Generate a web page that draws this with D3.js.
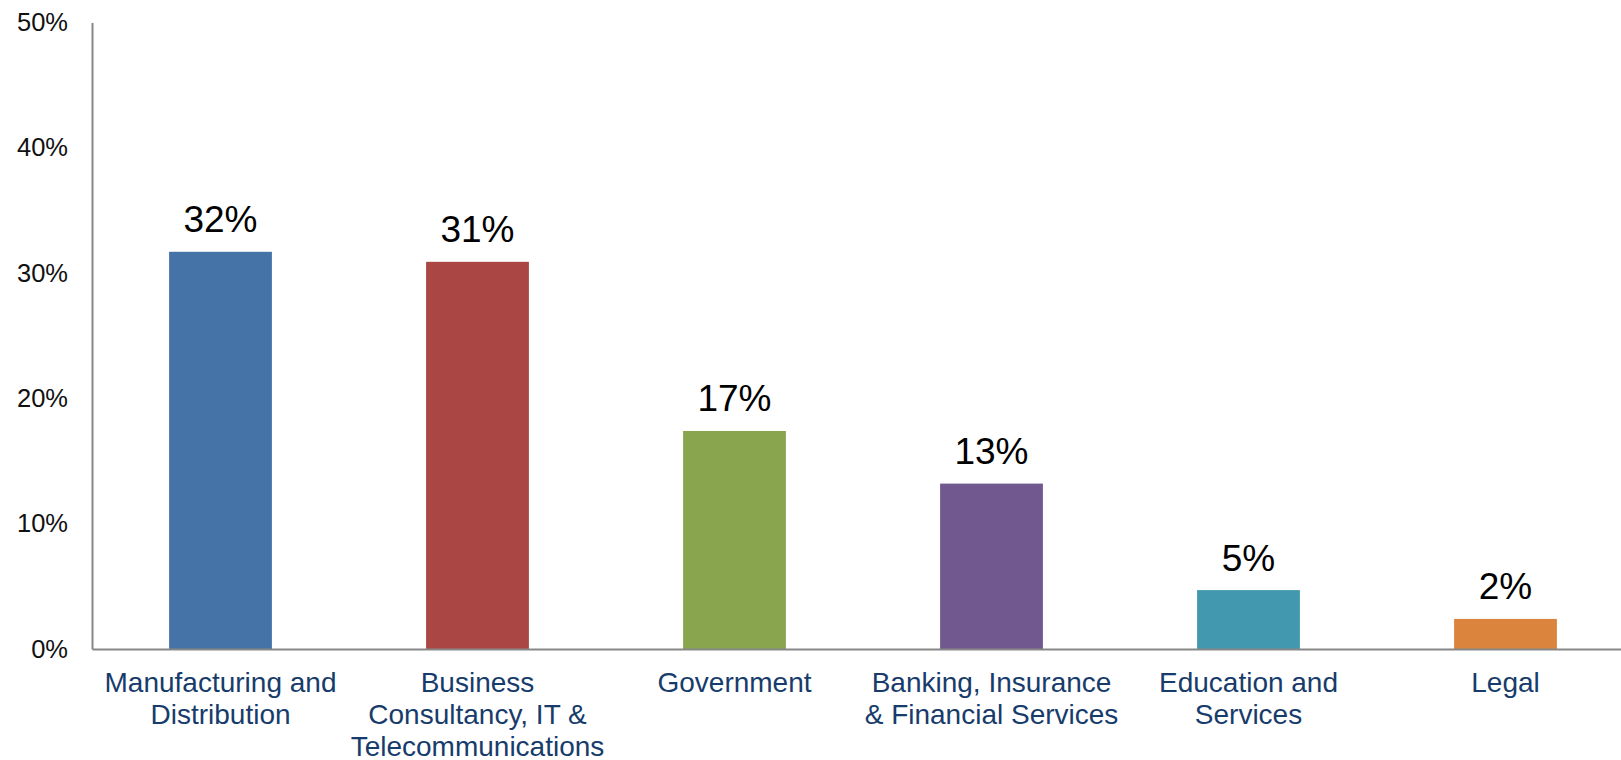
<!DOCTYPE html>
<html>
<head>
<meta charset="utf-8">
<script src="https://cdn.jsdelivr.net/npm/d3@7"></script>
<style>
  html, body { margin: 0; padding: 0; background: #ffffff; }
  svg { display: block; }
  text { font-family: Arial, "Liberation Sans", sans-serif; }
</style>
</head>
<body>
<svg id="chart" width="1621" height="760"></svg>
<script>
// Share of respondents by sector
const categories = [
  ["Manufacturing and", "Distribution"],
  ["Business", "Consultancy, IT &", "Telecommunications"],
  ["Government"],
  ["Banking, Insurance", "& Financial Services"],
  ["Education and", "Services"],
  ["Legal"]
];
const shares = [0.317, 0.309, 0.174, 0.132, 0.047, 0.024];
const barColors = ["#4572A7", "#AA4643", "#89A54E", "#71588F", "#4198AF", "#DB843D"];
const yTicks = [0, 0.1, 0.2, 0.3, 0.4, 0.5];

const svg = d3.select("#chart");
const keys = categories.map((c, i) => i);

const x = d3.scaleBand()
  .domain(keys)
  .range([92, 1634])
  .paddingInner(0.6)
  .paddingOuter(0.3);

const y = d3.scaleLinear()
  .domain([0, 0.5])
  .range([649, 22.5]);

const pct = d3.format(".0%");

// Bars
svg.append("g")
  .selectAll("rect")
  .data(shares)
  .join("rect")
  .attr("x", (d, i) => x(i))
  .attr("y", d => y(d))
  .attr("width", x.bandwidth())
  .attr("height", d => y(0) - y(d))
  .attr("fill", (d, i) => barColors[i]);

// Value labels above bars
svg.append("g")
  .selectAll("text")
  .data(shares)
  .join("text")
  .attr("x", (d, i) => x(i) + x.bandwidth() / 2)
  .attr("y", d => y(d) - 19.5)
  .attr("text-anchor", "middle")
  .attr("font-size", 37)
  .attr("fill", "#000000")
  .text(d => pct(d));

// Y axis
const yAxis = svg.append("g")
  .attr("transform", "translate(92,0)")
  .call(d3.axisLeft(y).tickValues(yTicks).tickFormat(pct).tickSize(0).tickSizeOuter(0).tickPadding(24));
yAxis.select(".domain").attr("stroke", "#878787").attr("stroke-width", 2);
yAxis.selectAll(".tick text")
  .attr("font-size", 25.5)
  .attr("fill", "#111111")
  .attr("font-family", "Arial, 'Liberation Sans', sans-serif");

// X axis with wrapped category names
const xAxis = svg.append("g")
  .attr("transform", `translate(0,${y(0)})`)
  .call(d3.axisBottom(x).tickSize(0).tickSizeOuter(0).tickFormat(""));
xAxis.select(".domain").attr("stroke", "#878787").attr("stroke-width", 2);
xAxis.selectAll(".tick text").remove();
xAxis.selectAll(".tick")
  .append("text")
  .attr("text-anchor", "middle")
  .attr("font-size", 28)
  .attr("fill", "#173C6B")
  .attr("font-family", "Arial, 'Liberation Sans', sans-serif")
  .each(function(i) {
    const t = d3.select(this);
    categories[i].forEach((line, k) => {
      t.append("tspan")
        .attr("x", 0)
        .attr("y", 42.5 + k * 32)
        .text(line);
    });
  });
</script>
</body>
</html>
